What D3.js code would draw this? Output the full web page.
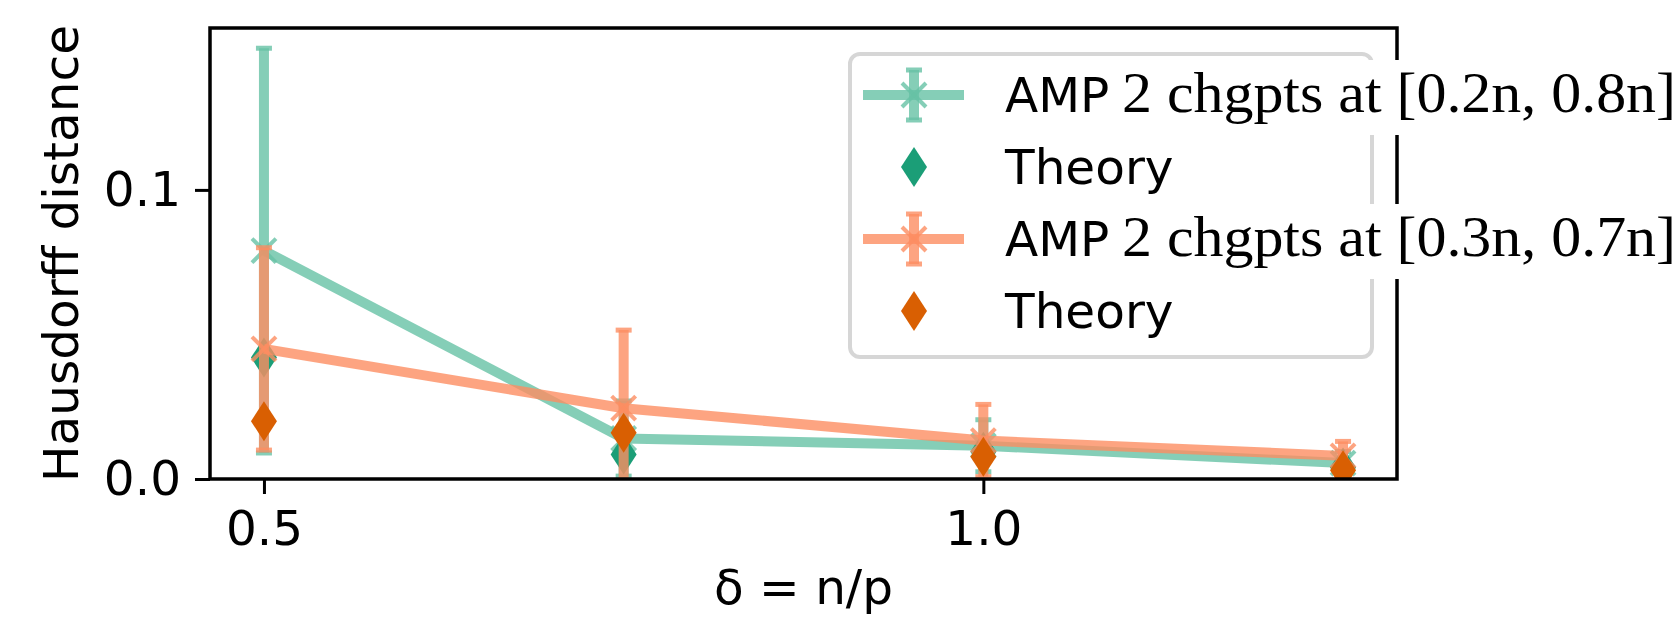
<!DOCTYPE html>
<html>
<head>
<meta charset="utf-8">
<script src="https://cdn.jsdelivr.net/npm/d3@7"></script>
<style>
  body { margin: 0; background: #fff; }
  text { font-family: "DejaVu Sans", sans-serif; }
</style>
</head>
<body>
<div id="chart"></div>
<script>
// data
const deltas = [0.5, 0.75, 1.0, 1.25];
const amp28Mean = [0.079, 0.014, 0.0115, 0.0055];
const amp28Err = [0.070, 0.013, 0.009, 0.004];
const theory28 = [0.042, 0.0085, 0.0094, 0.004];
const amp37Mean = [0.045, 0.0245, 0.0133, 0.008];
const amp37Err = [0.035, 0.027, 0.0125, 0.005];
const theory37 = [0.020, 0.016, 0.0077, 0.003];
const xTicks = [0.5, 1.0];
const yTicks = [0.0, 0.1];
const legendLabels = [
  { sans: "AMP", serif: "2 chgpts at [0.2n, 0.8n]", kind: "err", color: "#66c2a5" },
  { sans: "Theory", kind: "dia", color: "#1b9e77" },
  { sans: "AMP", serif: "2 chgpts at [0.3n, 0.7n]", kind: "err", color: "#fc8d62" },
  { sans: "Theory", kind: "dia", color: "#d95f02" }
];

const W = 1678, H = 617;
const axL = 210, axR = 1397, axT = 28, axB = 479;
const fs = 48.5;

const svg = d3.select("#chart").append("svg")
  .attr("width", W)
  .attr("height", H);

const x = d3.scaleLinear().domain([0.4625, 1.2875]).range([axL, axR]);
const y = d3.scaleLinear().domain([0, 0.156]).range([axB, axT]);

svg.append("clipPath")
  .attr("id", "plot-clip")
  .append("rect")
  .attr("x", axL).attr("y", axT)
  .attr("width", axR - axL).attr("height", axB - axT);

const plot = svg.append("g").attr("clip-path", "url(#plot-clip)");

const diamond = (cx, cy) => `M${cx},${cy - 20}L${cx + 13},${cy}L${cx},${cy + 20}L${cx - 13},${cy}Z`;

function drawX(g, cx, cy, color) {
  [[-1, -1, 1, 1], [-1, 1, 1, -1]].forEach(s => {
    g.append("line")
      .attr("x1", cx + s[0] * 12).attr("y1", cy + s[1] * 12)
      .attr("x2", cx + s[2] * 12).attr("y2", cy + s[3] * 12)
      .attr("stroke", color).attr("stroke-opacity", 0.8)
      .attr("stroke-width", 4);
  });
}

function drawErrSeries(means, errs, color) {
  const pts = deltas.map((d, i) => ({ d, m: means[i], e: errs[i] }));
  const g = plot.append("g");

  g.append("path")
    .datum(pts)
    .attr("d", d3.line().x(p => x(p.d)).y(p => y(p.m)))
    .attr("fill", "none")
    .attr("stroke", color)
    .attr("stroke-opacity", 0.8)
    .attr("stroke-width", 10);

  // error bars
  g.selectAll(".bar").data(pts).join("line")
    .attr("x1", p => x(p.d)).attr("x2", p => x(p.d))
    .attr("y1", p => y(p.m - p.e)).attr("y2", p => y(p.m + p.e))
    .attr("stroke", color).attr("stroke-opacity", 0.8)
    .attr("stroke-width", 10);

  // caps
  pts.forEach(p => {
    [p.m - p.e, p.m + p.e].forEach(v => {
      g.append("line")
        .attr("x1", x(p.d) - 8).attr("x2", x(p.d) + 8)
        .attr("y1", y(v)).attr("y2", y(v))
        .attr("stroke", color).attr("stroke-opacity", 0.8)
        .attr("stroke-width", 5);
    });
  });

  // x markers
  pts.forEach(p => drawX(g, x(p.d), y(p.m), color));
}

function drawTheory(vals, color) {
  plot.append("g").selectAll("path")
    .data(deltas.map((d, i) => ({ d, v: vals[i] })))
    .join("path")
    .attr("d", p => diamond(x(p.d), y(p.v)))
    .attr("fill", color);
}

drawErrSeries(amp28Mean, amp28Err, "#66c2a5");
drawTheory(theory28, "#1b9e77");
drawErrSeries(amp37Mean, amp37Err, "#fc8d62");
drawTheory(theory37, "#d95f02");

// axes
svg.append("g")
  .attr("transform", `translate(0,${axB})`)
  .call(d3.axisBottom(x).tickValues(xTicks).tickFormat(d3.format(".1f")).tickSize(15).tickPadding(17))
  .call(g => g.select(".domain").remove())
  .call(g => g.selectAll("line").attr("stroke-width", 3))
  .call(g => g.selectAll("text").attr("font-size", fs).attr("font-family", "DejaVu Sans").attr("fill", "#000"));

svg.append("g")
  .attr("transform", `translate(${axL},0)`)
  .call(d3.axisLeft(y).tickValues(yTicks).tickFormat(d3.format(".1f")).tickSize(15).tickPadding(14))
  .call(g => g.select(".domain").remove())
  .call(g => g.selectAll("line").attr("stroke-width", 3))
  .call(g => g.selectAll("text").attr("font-size", fs).attr("font-family", "DejaVu Sans").attr("fill", "#000"));

svg.append("rect")
  .attr("x", axL).attr("y", axT)
  .attr("width", axR - axL).attr("height", axB - axT)
  .attr("fill", "none").attr("stroke", "#000").attr("stroke-width", 3.5);

// axis labels
svg.append("text")
  .attr("x", (axL + axR) / 2).attr("y", 604)
  .attr("text-anchor", "middle")
  .attr("font-size", fs)
  .text("δ = n/p");

svg.append("text")
  .attr("transform", `translate(78,${(axT + axB) / 2}) rotate(-90)`)
  .attr("text-anchor", "middle")
  .attr("font-size", fs)
  .text("Hausdorff distance");

// legend
const legend = svg.append("g").attr("class", "legend");
legend.append("rect")
  .attr("x", 850).attr("y", 54)
  .attr("width", 522).attr("height", 303)
  .attr("rx", 10)
  .attr("fill", "#fff").attr("fill-opacity", 0.8)
  .attr("stroke", "#ccc").attr("stroke-opacity", 0.8)
  .attr("stroke-width", 4);

const rowY = [95, 167, 239, 311];
legendLabels.forEach((item, i) => {
  const cy = rowY[i];
  const hx = 914;
  if (item.kind === "err") {
    legend.append("line")
      .attr("x1", 863).attr("x2", 964).attr("y1", cy).attr("y2", cy)
      .attr("stroke", item.color).attr("stroke-opacity", 0.8).attr("stroke-width", 10);
    legend.append("line")
      .attr("x1", hx).attr("x2", hx).attr("y1", cy - 25).attr("y2", cy + 25)
      .attr("stroke", item.color).attr("stroke-opacity", 0.8).attr("stroke-width", 10);
    [cy - 25, cy + 25].forEach(v => {
      legend.append("line")
        .attr("x1", hx - 8).attr("x2", hx + 8).attr("y1", v).attr("y2", v)
        .attr("stroke", item.color).attr("stroke-opacity", 0.8).attr("stroke-width", 5);
    });
    drawX(legend, hx, cy, item.color);

    // latex label is rendered on an opaque white box
    legend.append("rect")
      .attr("x", 1000).attr("y", cy - 35)
      .attr("width", W - 1000).attr("height", 75)
      .attr("fill", "#fff");
    legend.append("text")
      .attr("x", 1005).attr("y", cy + 17)
      .attr("font-size", fs)
      .text(item.sans);
    legend.append("text")
      .attr("x", 1122).attr("y", cy + 17)
      .attr("font-size", 58)
      .attr("textLength", 554)
      .attr("lengthAdjust", "spacingAndGlyphs")
      .style("font-family", "'Liberation Serif', serif")
      .text(item.serif);
  } else {
    legend.append("path")
      .attr("d", diamond(hx, cy))
      .attr("fill", item.color);
    legend.append("text")
      .attr("x", 1005).attr("y", cy + 17)
      .attr("font-size", fs)
      .text(item.sans);
  }
});
</script>
</body>
</html>
